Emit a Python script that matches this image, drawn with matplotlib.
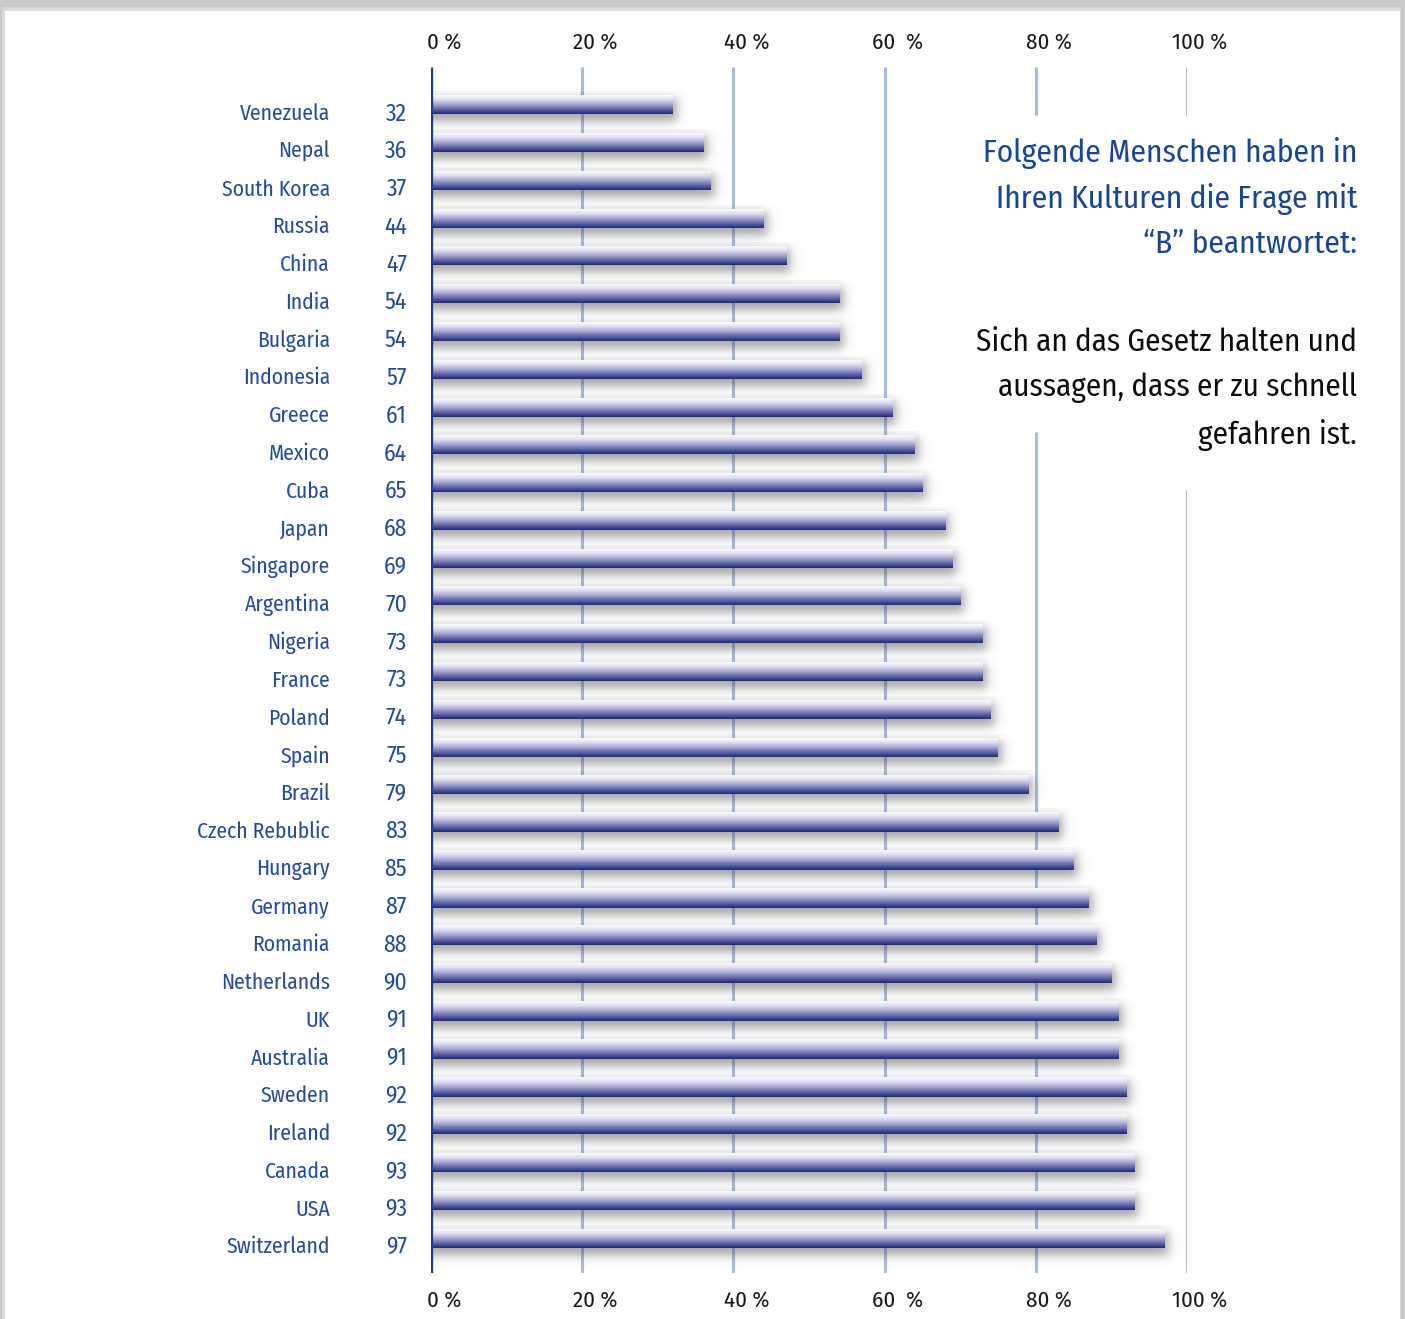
import matplotlib
matplotlib.use("Agg")
import matplotlib.pyplot as plt
import numpy as np
from matplotlib.patches import Rectangle
from matplotlib.colors import LinearSegmentedColormap
from matplotlib import font_manager
from matplotlib.transforms import offset_copy

countries = ["Venezuela", "Nepal", "South Korea", "Russia", "China", "India", "Bulgaria",
             "Indonesia", "Greece", "Mexico", "Cuba", "Japan", "Singapore", "Argentina",
             "Nigeria", "France", "Poland", "Spain", "Brazil", "Czech Rebublic", "Hungary",
             "Germany", "Romania", "Netherlands", "UK", "Australia", "Sweden", "Ireland",
             "Canada", "USA", "Switzerland"]
values = [32, 36, 37, 44, 47, 54, 54, 57, 61, 64, 65, 68, 69, 70, 73, 73, 74, 75, 79, 83,
          85, 87, 88, 90, 91, 91, 92, 92, 93, 93, 97]
tick_values = [0, 20, 40, 60, 80, 100]
tick_labels = ["0 %", "20 %", "40 %", "60  %", "80 %", "100 %"]
title_lines = "Folgende Menschen haben in\nIhren Kulturen die Frage mit\n\u201cB\u201d beantwortet:"
answer_lines = "Sich an das Gesetz halten und\naussagen, dass er zu schnell\ngefahren ist."

names = {f.name for f in font_manager.fontManager.ttflist}
prefs = ["Fira Sans Condensed", "Roboto Condensed", "PT Sans Narrow", "Asap Condensed",
         "Liberation Sans Narrow"]
FONT = [p for p in prefs if p in names][:1] + ["DejaVu Sans"]

W, H = 1405, 1319
fig = plt.figure(figsize=(W / 100, H / 100), dpi=100)
fig.patch.set_facecolor("#c9c9c9")
for k, a in enumerate([0.25, 0.45, 0.7]):
    fig.patches.append(Rectangle(((4 - k) / W, 0), (W - 8 + 2 * k - 2) / W, (H - 9 + k) / H,
                                 transform=fig.transFigure, facecolor="#dedede", alpha=a,
                                 edgecolor="none", zorder=-20))
fig.patches.append(Rectangle((5 / W, 0), (W - 10) / W, (H - 11) / H, transform=fig.transFigure,
                             facecolor="white", edgecolor="none", zorder=-10))

ax_left, ax_right = 431, 1187
ax_top, ax_bot = 67, 1273
ax = fig.add_axes([ax_left / W, 1 - ax_bot / H, (ax_right - ax_left) / W, (ax_bot - ax_top) / H])
ax.set_facecolor("none")
ax.set_zorder(5)
ylim_bot, ylim_top = 30.92, -1.0
ax.axis("off")

pix_per_row = (ax_bot - ax_top) / (ylim_bot - ylim_top)
pix_per_x = (ax_right - ax_left) / 100.0
def row_at(py):
    return ylim_top + (py - ax_top) / pix_per_row

grid_c = "#a9bbdf"
for t in [20, 40, 60]:
    ax.vlines(t, ylim_top, ylim_bot, color=grid_c, lw=2.2, zorder=1)
ax.vlines(80, ylim_top, row_at(115), color=grid_c, lw=2.2, zorder=1)
ax.vlines(80, row_at(432), ylim_bot, color=grid_c, lw=2.2, zorder=1)
ax.vlines(100, ylim_top, row_at(115), color=grid_c, lw=2.2, zorder=1)
ax.vlines(100, row_at(490), ylim_bot, color=grid_c, lw=2.2, zorder=1)

cmap = LinearSegmentedColormap.from_list("bar", ["#fbfbfe", "#dcdcef", "#a4a4cf", "#5f67a8", "#1c2a7a"])
grad = np.linspace(0, 1, 64).reshape(-1, 1)
bar_px = 19
h = bar_px / pix_per_row

def sig(z):
    return 1.0 / (1.0 + np.exp(-z))

for i, v in enumerate(values):
    # soft blurred drop shadow, built in pixel space
    L = v * pix_per_x
    pad_r, pad_t, pad_b = 18, 4, 18
    xs = np.arange(0, L + pad_r) + 0.5
    ys = np.arange(-bar_px / 2 - pad_t, bar_px / 2 + pad_b) + 0.5
    s = 3.0
    ax_x = sig((L + 4 - xs) / s)
    ax_y = sig((ys - (-bar_px / 2 + 3)) / s) * sig(((bar_px / 2 + 7) - ys) / s)
    alpha = 0.5 * np.outer(ax_y, ax_x)
    rgba = np.zeros(alpha.shape + (4,))
    rgba[..., :3] = 0.3
    rgba[..., 3] = alpha
    ax.imshow(rgba, aspect="auto", interpolation="bilinear", zorder=2,
              extent=(0, (L + pad_r) / pix_per_x,
                      i + (bar_px / 2 + pad_b) / pix_per_row, i - (bar_px / 2 + pad_t) / pix_per_row))
    ax.imshow(grad, cmap=cmap, aspect="auto", extent=(0, v, i + h / 2, i - h / 2),
              interpolation="bilinear", zorder=3)
ax.set_xlim(0, 100)
ax.set_ylim(ylim_bot, ylim_top)

ax.vlines(0, ylim_top, ylim_bot, color="#1b3c8c", lw=2.4, zorder=4)

label_c = "#234d95"
tr_c = offset_copy(ax.transData, fig=fig, x=-101, y=-9, units="dots")
tr_v = offset_copy(ax.transData, fig=fig, x=-24, y=-9, units="dots")
for i, (c, v) in enumerate(zip(countries, values)):
    ax.text(0, i, c, transform=tr_c, ha="right", va="center", fontsize=15.5,
            color=label_c, family=FONT)
    ax.text(0, i, str(v), transform=tr_v, ha="right", va="center", fontsize=17,
            color=label_c, family=FONT)

tr_top = offset_copy(ax.transData, fig=fig, x=13, y=25, units="dots")
tr_bot = offset_copy(ax.transData, fig=fig, x=13, y=-27, units="dots")
for t, lab in zip(tick_values, tick_labels):
    ax.text(t, ylim_top, lab, transform=tr_top, ha="center", va="center", fontsize=16.5,
            color="#1a1a1a", family=FONT)
    ax.text(t, ylim_bot, lab, transform=tr_bot, ha="center", va="center", fontsize=16.5,
            color="#1a1a1a", family=FONT)

fig.text(1357 / W, 1 - 198 / H, title_lines, ha="right", va="center", fontsize=22.6,
         color="#1a4690", family=FONT, linespacing=1.57, multialignment="right")
fig.text(1357 / W, 1 - 389 / H, answer_lines, ha="right", va="center", fontsize=22.4,
         color="#0d0d0d", family=FONT, linespacing=1.63, multialignment="right")

fig.savefig("out.png", dpi=100, facecolor=fig.get_facecolor())
